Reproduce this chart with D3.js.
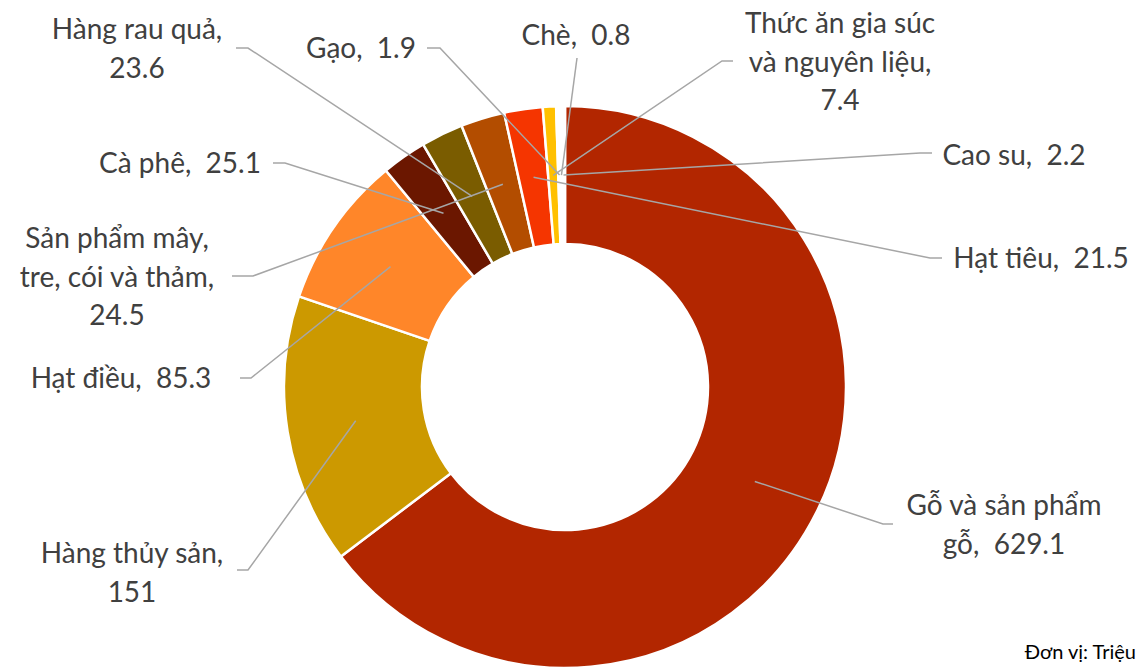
<!DOCTYPE html>
<html>
<head>
<meta charset="utf-8">
<script src="https://cdn.jsdelivr.net/npm/d3@7"></script>
<style>
  html, body { margin: 0; padding: 0; background: #ffffff; }
  svg { display: block; }
  text { white-space: pre; }
</style>
</head>
<body>
<svg id="chart" width="1138" height="667"></svg>
<script>
// ---- data ----
const categories = ["Gỗ và sản phẩm gỗ", "Hàng thủy sản", "Hạt điều", "Cà phê", "Hàng rau quả",
  "Sản phẩm mây, tre, cói và thảm", "Hạt tiêu", "Thức ăn gia súc và nguyên liệu", "Gạo", "Chè", "Cao su"];
const values = [629.1, 151, 85.3, 25.1, 23.6, 24.5, 21.5, 7.4, 1.9, 0.8, 2.2];
const colors = ["#B22600", "#CC9900", "#FF8629", "#6B1700", "#7A5C00", "#B34D00", "#F53500",
  "#FFC000", "#FFFFFF", "#FFFFFF", "#FFFFFF"];
// label text lines; {v} is replaced by the value
const labelLines = [
  ["Gỗ và sản phẩm", "gỗ,  {v}"],
  ["Hàng thủy sản,", "{v}"],
  ["Hạt điều,  {v}"],
  ["Cà phê,  {v}"],
  ["Hàng rau quả,", "{v}"],
  ["Sản phẩm mây,", "tre, cói và thảm,", "{v}"],
  ["Hạt tiêu,  {v}"],
  ["Thức ăn gia súc", "và nguyên liệu,", "{v}"],
  ["Gạo,  {v}"],
  ["Chè,  {v}"],
  ["Cao su,  {v}"]
];
const unitText = "Đơn vị: Triệu";

// ---- layout (positions of label boxes and leader elbows) ----
const layout = [
  {x: 1004, y: 515, hx1: 893, hx2: 883, hy: 524},
  {x: 132,  y: 563, hx1: 237, hx2: 248, hy: 570},
  {x: 121,  y: 388, hx1: 240, hx2: 251, hy: 378},
  {x: 180,  y: 173, hx1: 273, hx2: 285, hy: 163},
  {x: 137,  y: 39,  hx1: 236, hx2: 248, hy: 48},
  {x: 117,  y: 248, hx1: 232, hx2: 253, hy: 276},
  {x: 1041, y: 268, hx1: 942, hx2: 930, hy: 258},
  {x: 840,  y: 33,  hx1: 733, hx2: 722, hy: 61},
  {x: 361,  y: 58,  hx1: 427, hx2: 440, hy: 48},
  {x: 576,  y: 45,  hx1: 577, hx2: 577, hy: 58},
  {x: 1014, y: 165, hx1: 932, hx2: 920, hy: 153}
];

const W = 1138, H = 667;
const cx = 565, cy = 387, R = 281, r = 143;
const lineH = 38.5;

const svg = d3.select("#chart");
const g = svg.append("g").attr("transform", `translate(${cx},${cy})`);

const pie = d3.pie().sort(null).value(d => d).startAngle(0).endAngle(2 * Math.PI);
const arcs = pie(values);
const arc = d3.arc().innerRadius(r).outerRadius(R);

g.selectAll("path.slice")
  .data(arcs)
  .join("path")
  .attr("class", "slice")
  .attr("d", arc)
  .attr("fill", (d, i) => colors[i])
  .attr("stroke", "#ffffff")
  .attr("stroke-width", 2.5)
  .attr("stroke-linejoin", "round");

// leader lines
const lines = svg.append("g");
arcs.forEach((d, i) => {
  const c = arc.centroid(d);
  const L = layout[i];
  const pts = [[L.hx1, L.hy], [L.hx2, L.hy], [cx + c[0], cy + c[1]]];
  lines.append("path")
    .attr("d", d3.line()(pts))
    .attr("fill", "none")
    .attr("stroke", "#A6A6A6")
    .attr("stroke-width", 1.5);
});

// labels
const fmt = v => String(v);
const labels = svg.append("g")
  .attr("font-family", "Lato, 'Open Sans', sans-serif")
  .attr("font-size", 28)
  .attr("fill", "#404040");
labelLines.forEach((ls, i) => {
  const L = layout[i];
  const t = labels.append("text").attr("text-anchor", "middle");
  ls.forEach((s, k) => {
    t.append("tspan")
      .attr("x", L.x)
      .attr("y", L.y + k * lineH)
      .text(s.replace("{v}", fmt(values[i])));
  });
});

svg.append("text")
  .attr("x", 1136).attr("y", 659)
  .attr("text-anchor", "end")
  .attr("font-family", "Lato, 'Open Sans', sans-serif")
  .attr("font-size", 20)
  .attr("fill", "#000000")
  .text(unitText);
</script>
</body>
</html>
